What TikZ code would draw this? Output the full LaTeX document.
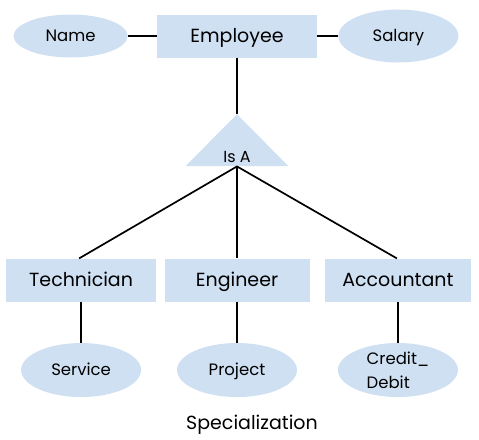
\documentclass[tikz,border=0pt]{standalone}
\usepackage{fontspec}
\setmainfont{Poppins}
\usetikzlibrary{shapes.geometric, positioning}

\definecolor{boxblue}{HTML}{CFE0F2}

\begin{document}
\begin{tikzpicture}[
      x=1pt, y=1pt,
      node distance=20pt and 20pt,
      entity/.style={rectangle, fill=boxblue, minimum height=43pt, inner sep=0pt, text height=13.3pt, text depth=0pt, font=\fontsize{19}{22}\selectfont},
      attr/.style={ellipse, fill=boxblue, inner sep=0pt, minimum width=120pt, minimum height=54pt, align=left, font=\fontsize{16.5}{24}\selectfont},
      oneline/.style={text height=11.5pt, text depth=0pt},
      isa/.style={isosceles triangle, isosceles triangle stretches, shape border rotate=90, fill=boxblue, inner sep=0pt, minimum width=103pt, minimum height=52pt},
      link/.style={line width=1.7pt}
    ]
    \useasboundingbox (0,0) rectangle (479,-439);

    % top level entity and its attributes
    \node[entity, minimum width=160pt] (emp) at (237,-36) {Employee};
    \node[attr, oneline, minimum width=114pt, minimum height=43pt, left=29pt of emp] (name) {Name};
    \node[attr, oneline, minimum height=53pt, right=21pt of emp] (salary) {Salary};

    % specialization triangle
    \node[isa, below=56pt of emp] (isa) {};
    \node[font=\fontsize{16}{18}\selectfont, text height=11.2pt, text depth=0pt, inner sep=0pt] (isalabel) at ([yshift=10pt]isa.south) {Is A};

    % sub entities
    \node[entity, minimum width=145pt, below=92pt of isa.south, anchor=north] (eng) {Engineer};
    \node[entity, minimum width=150pt, left=8pt of eng] (tech) {Technician};
    \node[entity, minimum width=146pt, right=15pt of eng] (acct) {Accountant};

    \node[attr, oneline, below=41pt of tech] (service) {Service};
    \node[attr, oneline, below=41pt of eng] (project) {Project};
    \node[attr, below=41pt of acct] (credit) {Credit\_\\Debit};

    \node[font=\fontsize{19}{22}\selectfont, text height=13.3pt, text depth=0pt, inner sep=0pt, below=19pt of project, xshift=15pt] (title) {Specialization};

    \draw[link] (name) -- (emp);
    \draw[link] (emp) -- (salary);
    \draw[link] (emp.south) -- (isa.north);
    \draw[link] (isa.south) -- ([xshift=-2pt]tech.north);
    \draw[link] (isa.south) -- (eng.north);
    \draw[link] (isa.south) -- ([xshift=-1pt]acct.north);
    \draw[link] (tech) -- (service);
    \draw[link] (eng) -- (project);
    \draw[link] (acct) -- (credit);
  \end{tikzpicture}
\end{document}
